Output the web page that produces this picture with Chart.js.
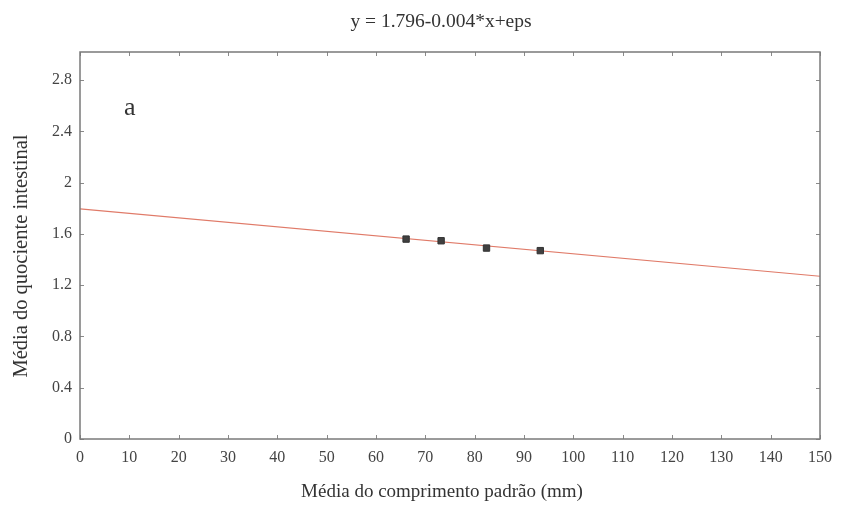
<!DOCTYPE html>
<html><head><meta charset="utf-8">
<script src="https://cdn.jsdelivr.net/npm/chart.js@4"></script>
<style>html,body{margin:0;padding:0;background:#fff}#w{width:843px;height:506px}</style>
</head><body><div id="w"><canvas id="c"></canvas></div>
<script>
const pointX = [66.1, 73.2, 82.4, 93.3];
const pointY = [1.56, 1.547, 1.49, 1.47];
const lineX = [0, 150];
const lineY = [1.796, 1.27];
const xTicks = [0,10,20,30,40,50,60,70,80,90,100,110,120,130,140,150];
const yTicks = [0,0.4,0.8,1.2,1.6,2,2.4,2.8];
const titleText = 'y = 1.796-0.004*x+eps';
const xTitle = 'Média do comprimento padrão (mm)';
const yTitle = 'Média do quociente intestinal';
const panelLabel = 'a';

const serif = '"Liberation Serif", "DejaVu Serif", serif';
const L = 80, R = 820, T = 52, B = 439, W = 843, H = 506;

const frame = {
  id: 'frame',
  afterDatasetsDraw(chart) {
    const {ctx, chartArea: a, scales: {x, y}} = chart;
    ctx.save();
    ctx.strokeStyle = '#8a8a8a';
    ctx.lineWidth = 1;
    xTicks.forEach(v => {
      const px = Math.round(x.getPixelForValue(v)) + 0.5;
      ctx.beginPath(); ctx.moveTo(px, a.bottom); ctx.lineTo(px, a.bottom - 4); ctx.stroke();
      ctx.beginPath(); ctx.moveTo(px, a.top); ctx.lineTo(px, a.top + 4); ctx.stroke();
    });
    yTicks.forEach(v => {
      const py = Math.round(y.getPixelForValue(v)) + 0.5;
      ctx.beginPath(); ctx.moveTo(a.left, py); ctx.lineTo(a.left + 4, py); ctx.stroke();
      ctx.beginPath(); ctx.moveTo(a.right, py); ctx.lineTo(a.right - 4, py); ctx.stroke();
    });
    ctx.strokeStyle = '#7a7a7a';
    ctx.lineWidth = 1.5;
    ctx.strokeRect(a.left, a.top, a.right - a.left, a.bottom - a.top);
    ctx.fillStyle = '#333';
    ctx.font = '26px ' + serif;
    ctx.textAlign = 'left';
    ctx.textBaseline = 'alphabetic';
    ctx.fillText(panelLabel, a.left + 44, a.top + 63);
    // titles
    ctx.textAlign = 'center';
    ctx.textBaseline = 'middle';
    ctx.font = '19.5px ' + serif;
    ctx.fillText(titleText, 441, 22);
    ctx.font = '19px ' + serif;
    ctx.fillText(xTitle, 442, 492);
    ctx.save();
    ctx.translate(22, 256);
    ctx.rotate(-Math.PI / 2);
    ctx.font = '20.5px ' + serif;
    ctx.fillText(yTitle, 0, 0);
    ctx.restore();
    ctx.restore();
  }
};

new Chart(document.getElementById('c'), {
  type: 'scatter',
  data: {
    datasets: [
      {
        type: 'line',
        data: lineX.map((v, i) => ({x: v, y: lineY[i]})),
        borderColor: '#e07a68',
        borderWidth: 1.2,
        pointRadius: 0,
        fill: false,
        order: 2
      },
      {
        data: pointX.map((v, i) => ({x: v, y: pointY[i]})),
        pointStyle: 'rect',
        pointRadius: 4.5,
        backgroundColor: '#404040',
        borderColor: '#333',
        borderWidth: 1,
        order: 1
      }
    ]
  },
  options: {
    responsive: true,
    maintainAspectRatio: false,
    animation: false,
    layout: {padding: {left: 0, right: W - R, top: T, bottom: 0}},
    plugins: {
      legend: {display: false},
      tooltip: {enabled: false},
      title: {display: false}
    },
    scales: {
      x: {
        type: 'linear',
        min: 0, max: 150,
        afterBuildTicks: s => { s.ticks = xTicks.map(v => ({value: v})); },
        afterFit: s => { s.height = H - B; },
        grid: {display: false, drawTicks: false},
        border: {display: false},
        ticks: {color: '#444', font: {family: serif, size: 16}, padding: 9, maxRotation: 0, autoSkip: false},
        title: {display: false}
      },
      y: {
        type: 'linear',
        min: 0, max: 3.02,
        afterBuildTicks: s => { s.ticks = yTicks.map(v => ({value: v})); },
        afterFit: s => { s.width = L; },
        grid: {display: false, drawTicks: false},
        border: {display: false},
        ticks: {color: '#444', font: {family: serif, size: 16}, padding: 8, autoSkip: false,
          callback: v => String(Math.round(v * 10) / 10)},
        title: {display: false}
      }
    }
  },
  plugins: [frame]
});
</script>
</body></html>
